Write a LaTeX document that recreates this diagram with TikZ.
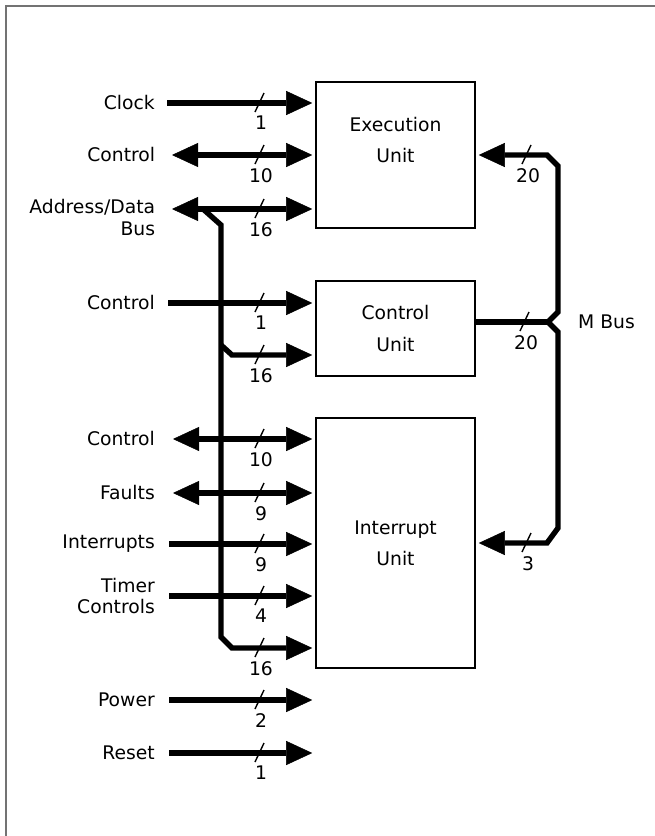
\documentclass[tikz,border=0pt]{standalone}
\usepackage{fontspec}
\setmainfont{DejaVu Sans}
\usetikzlibrary{arrows.meta, positioning}

\begin{document}
\begin{tikzpicture}[
    x=0.03cm, y=-0.03cm,
    font=\fontsize{16}{18}\selectfont,
    >={Triangle[length=0.78cm, width=0.72cm, line width=0.4pt]},
    unitbox/.style={rectangle, draw, line width=1.4pt, minimum width=4.77cm, align=center, font=\fontsize{16}{26.5}\selectfont},
    siglabel/.style={align=right, inner sep=0pt},
    sig/.style={->, line width=4.6pt, shorten >=2.5pt},
    dsig/.style={<->, line width=4.6pt, shorten >=2.5pt},
    buswidth/.pic={
      \draw[line width=1.2pt] (-5,9) -- (4,-10);
      \node[anchor=north, inner sep=0pt] (-n) at (1,13) {#1};
    }
  ]
    \useasboundingbox (0,0) rectangle (655,836);
    % Page frame
    \draw[black!55, line width=0.9pt] (6,836) -- (6,6) -- (655,6);

    % Units
    \node[unitbox, minimum height=4.38cm, label={[name=exectext, align=center, font=\fontsize{16}{26.5}\selectfont, yshift=0.45cm]center:Execution\\Unit}] (exec) at (395.5,155) {};
    \node[unitbox, minimum height=2.85cm] (ctrl) at (395.5,328.5) {Control\\Unit};
    \node[unitbox, minimum height=7.5cm] (intr) at (395.5,543) {Interrupt\\Unit};

    % Execution unit signals
    \coordinate (clkin) at (167,103);
    \coordinate (ectlin) at (172,155);
    \coordinate (adrin) at (172,209);
    \node[siglabel, left=0.36cm of clkin] (clklbl) {Clock};
    \node[siglabel, left=0.5cm of ectlin] (ectllbl) {Control};
    \node[siglabel, left=0.5cm of adrin, anchor=north east, yshift=0.285cm] (adrlbl) {Address/Data\\Bus};
    \draw[sig] (clkin) -- (exec.west |- clkin);
    \draw[dsig] (ectlin) -- (exec.west |- ectlin);
    \draw[dsig] (adrin) -- (exec.west |- adrin);

    % Control unit signals
    \coordinate (cctlin) at (168,303);
    \node[siglabel, left=0.39cm of cctlin] (cctllbl) {Control};
    \draw[sig] (cctlin) -- (ctrl.west |- cctlin);

    % Interrupt unit signals
    \coordinate (ictlin) at (173,439);
    \coordinate (fltin) at (173,493);
    \coordinate (irqin) at (169,544);
    \coordinate (timin) at (169,596);
    \node[siglabel, left=0.54cm of ictlin] (ictllbl) {Control};
    \node[siglabel, left=0.54cm of fltin] (fltlbl) {Faults};
    \node[siglabel, left=0.42cm of irqin] (irqlbl) {Interrupts};
    \node[siglabel, left=0.42cm of timin] (timlbl) {Timer\\Controls};
    \draw[dsig] (ictlin) -- (intr.west |- ictlin);
    \draw[dsig] (fltin) -- (intr.west |- fltin);
    \draw[sig] (irqin) -- (intr.west |- irqin);
    \draw[sig] (timin) -- (intr.west |- timin);

    % Power and reset
    \coordinate (pwrin) at (169,700);
    \coordinate (rstin) at (169,753);
    \node[siglabel, left=0.42cm of pwrin] (pwrlbl) {Power};
    \node[siglabel, left=0.42cm of rstin] (rstlbl) {Reset};
    \draw[sig] (pwrin) -- (intr.west |- pwrin);
    \draw[sig] (rstin) -- (intr.west |- rstin);

    % Address/data bus
    \coordinate (busj) at (203,209);
    \coordinate (busbr) at (221,345);
    \draw[sig] (busj) -- ++(18,16) -- ++(0,412) -- ++(11,11) -- (intr.west |- 0,648);
    \draw[sig] (busbr) -- ++(11,10) -- (ctrl.west |- 0,355);

    % M bus
    \coordinate (mjoin) at (548,322);
    \draw[line width=4.6pt] (ctrl.east |- mjoin) -- (mjoin);
    \draw[dsig, shorten <=2.5pt] (exec.east |- 0,155) -- (547,155) -- (558,166) -- (558,312) -- (mjoin) -- (558,332) -- (558,528) -- (547,543) -- (intr.east |- 0,543);
    \node[siglabel, right=0.9cm of mjoin] (mbuslbl) {M Bus};

    % Bus widths
    \pic (wclk) at (260,103) {buswidth=1};
    \pic (wectl) at (260,155) {buswidth=10};
    \pic (wadr) at (260,209) {buswidth=16};
    \pic (wcctl) at (260,303) {buswidth=1};
    \pic (wcbus) at (260,355) {buswidth=16};
    \pic (wictl) at (260,439) {buswidth=10};
    \pic (wflt) at (260,493) {buswidth=9};
    \pic (wirq) at (260,544) {buswidth=9};
    \pic (wtim) at (260,596) {buswidth=4};
    \pic (wibus) at (260,648) {buswidth=16};
    \pic (wpwr) at (260,700) {buswidth=2};
    \pic (wrst) at (260,753) {buswidth=1};
    \pic (wmexec) at (527,155) {buswidth=20};
    \pic (wmctrl) at (525,322) {buswidth=20};
    \pic (wmintr) at (527,543) {buswidth=3};
  \end{tikzpicture}
\end{document}
